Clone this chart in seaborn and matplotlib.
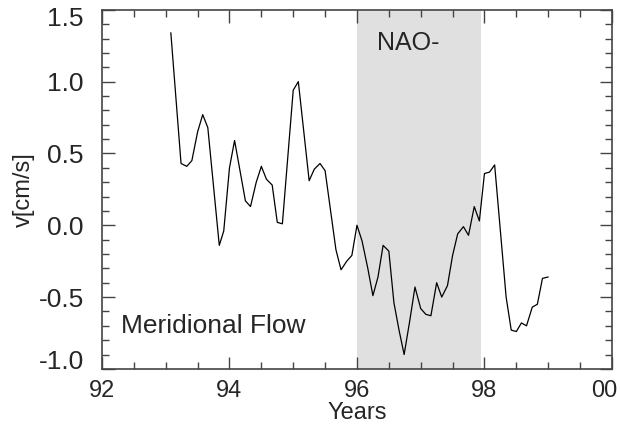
import matplotlib
matplotlib.use("Agg")
import matplotlib.pyplot as plt
import matplotlib.transforms as mtransforms
import seaborn as sns
import pandas as pd
from matplotlib.ticker import MultipleLocator, FixedLocator, FixedFormatter

# data (decimal years since 1900, velocity in cm/s)
years = [93.08, 93.24, 93.33, 93.41, 93.50, 93.58, 93.66, 93.84, 93.91,
         94.00, 94.08, 94.25, 94.33, 94.42, 94.50, 94.58, 94.67, 94.75, 94.83,
         95.00, 95.08, 95.25, 95.33, 95.42, 95.50, 95.67, 95.75, 95.84, 95.92,
         96.00, 96.08, 96.17, 96.25, 96.33, 96.41, 96.50, 96.58, 96.66, 96.74,
         96.83, 96.91, 97.00, 97.08, 97.16, 97.25, 97.33, 97.42, 97.50, 97.58,
         97.67, 97.75, 97.84, 97.92, 98.00, 98.08, 98.16, 98.34, 98.42, 98.50,
         98.58, 98.66, 98.75, 98.83, 98.91, 99.00]
v = [1.34, 0.43, 0.41, 0.45, 0.65, 0.77, 0.68, -0.14, -0.04,
     0.40, 0.59, 0.17, 0.13, 0.30, 0.41, 0.32, 0.28, 0.02, 0.01,
     0.94, 1.00, 0.31, 0.39, 0.43, 0.38, -0.17, -0.31, -0.25, -0.21,
     0.00, -0.11, -0.30, -0.49, -0.36, -0.14, -0.18, -0.54, -0.73, -0.90,
     -0.66, -0.43, -0.58, -0.62, -0.63, -0.40, -0.50, -0.42, -0.21, -0.06,
     -0.01, -0.07, 0.13, 0.03, 0.36, 0.37, 0.42, -0.50, -0.73, -0.74,
     -0.68, -0.70, -0.57, -0.55, -0.37, -0.36]

nao_start, nao_end = 96.0, 97.95
xtick_pos = [92, 94, 96, 98, 100]
xtick_labels = ["92", "94", "96", "98", "00"]

df = pd.DataFrame({"year": years, "v": v})

sns.set_style("ticks")
plt.rcParams["font.family"] = ["Liberation Sans", "DejaVu Sans"]

fig = plt.figure(figsize=(6.2, 4.25), dpi=100)
ax = fig.add_axes([0.1645, 0.132, 0.8225, 0.845])

ax.axvspan(nao_start, nao_end, color="#e0e0e0", lw=0, zorder=0)
sns.lineplot(data=df, x="year", y="v", ax=ax, color="black", lw=0.9)

ax.set_xlim(92, 100)
ax.set_ylim(-1.0, 1.5)
ax.xaxis.set_major_locator(FixedLocator(xtick_pos))
ax.xaxis.set_major_formatter(FixedFormatter(xtick_labels))
ax.xaxis.set_minor_locator(MultipleLocator(0.5))
ax.yaxis.set_major_locator(MultipleLocator(0.5))
ax.yaxis.set_minor_locator(MultipleLocator(0.1))
ax.yaxis.set_major_formatter(plt.FuncFormatter(lambda y, _: f"{y:.1f}"))

ax.tick_params(which="both", direction="in", top=True, right=True,
               color="#444444", width=1.0)
ax.tick_params(which="major", length=9, pad=8)
ax.tick_params(axis="x", which="major", labelsize=17)
ax.tick_params(axis="y", which="major", labelsize=19, pad=13)
ax.tick_params(which="minor", length=5)
for s in ax.spines.values():
    s.set_color("#444444")
    s.set_linewidth(1.2)

ax.set_xlabel("Years", fontsize=17, labelpad=0)
ax.set_ylabel("v[cm/s]", fontsize=17, labelpad=3)

ax.text(96.8, 1.27, "NAO-", fontsize=18, ha="center", va="center")
ax.text(92.3, -0.7, "Meridional Flow", fontsize=19, ha="left", va="center")

# nudge edge labels inward like the original
fig.canvas.draw()
for tick in ax.yaxis.get_major_ticks():
    loc = tick.get_loc()
    if abs(loc - (-1.0)) < 1e-6:
        dy = 0.09
    elif abs(loc - 1.5) < 1e-6:
        dy = -0.07
    else:
        continue
    tick.label1.set_transform(tick.label1.get_transform() +
                              mtransforms.ScaledTranslation(0, dy, fig.dpi_scale_trans))
for tick in ax.xaxis.get_major_ticks():
    if abs(tick.get_loc() - 100) < 1e-6:
        tick.label1.set_transform(tick.label1.get_transform() +
                                  mtransforms.ScaledTranslation(-0.08, 0, fig.dpi_scale_trans))

fig.savefig("out.png", dpi=100)
